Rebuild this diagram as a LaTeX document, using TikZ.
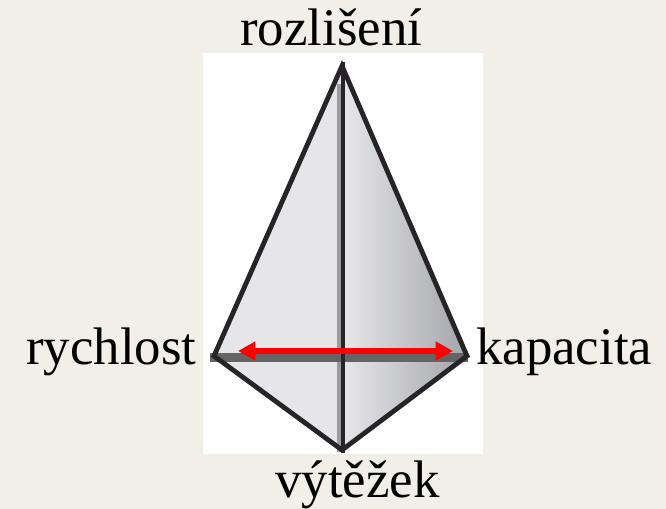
\documentclass[tikz,border=0pt]{standalone}
\usepackage{fontspec}
\setmainfont{Liberation Serif}
\usetikzlibrary{arrows.meta}
\definecolor{bgc}{RGB}{240,240,232}
\definecolor{facel}{RGB}{230,230,233}
\definecolor{facer}{RGB}{170,171,176}
\definecolor{ink}{RGB}{38,36,38}
\definecolor{band}{RGB}{100,100,100}
\definecolor{stripe}{RGB}{155,155,157}
\tikzset{
  lab/.style={anchor=base west,inner sep=0pt,font=\fontsize{39.6pt}{44pt}\selectfont,text=black},
  edge/.style={draw=ink,line width=3.6pt,line join=miter},
  axisline/.style={draw=ink,line width=3.2pt},
  redarrow/.style={draw=red,line width=4.6pt,{Triangle[length=13pt,width=13.5pt]}-{Triangle[length=13pt,width=13.5pt]}}
}
\begin{document}
\begin{tikzpicture}[x=0.75pt,y=-0.75pt]
\useasboundingbox (0,0) rectangle (666,509);
\fill[bgc] (0,0) rectangle (666,509);
\fill[white] (203,53) rectangle (483,454);
\coordinate (top) at (342,66);
\coordinate (lft) at (214,356);
\coordinate (rgt) at (467,356);
\coordinate (bot) at (342,450);
\coordinate (ltip) at (238,351);
\coordinate (rtip) at (453,351);
\coordinate (axisT) at (343,62);
\coordinate (axisB) at (343,453);
% faces
\fill[facel] (top) -- (lft) -- (bot) -- cycle;
\begin{scope}
  \clip (top) -- (rgt) -- (bot) -- cycle;
  \shade[left color=facel,right color=facer] (345,55) rectangle (455,454);
  \fill[facer] (455,55) rectangle (470,454);
\end{scope}
\fill[facel] (337,74) rectangle (345,450);
\fill[stripe] (337,84) rectangle (341,452);
% band
\fill[band] (210,353) rectangle (468,362);
% outline
\begin{scope}
  \clip (203,53) rectangle (483,453);
  \draw[edge] (top) -- (lft) -- (bot) -- (rgt) -- cycle;
\end{scope}
\draw[axisline] (axisT) -- (axisB);
% arrow
\draw[redarrow] (ltip) -- (rtip);
% labels
\node[lab] (a) at (240,46) {rozlišení};
\node[lab] (b) at (26,364) {rychlost};
\node[lab] (c) at (476,364) {kapacita};
\node[lab] (d) at (275,497) {výtěžek};
\end{tikzpicture}
\end{document}
